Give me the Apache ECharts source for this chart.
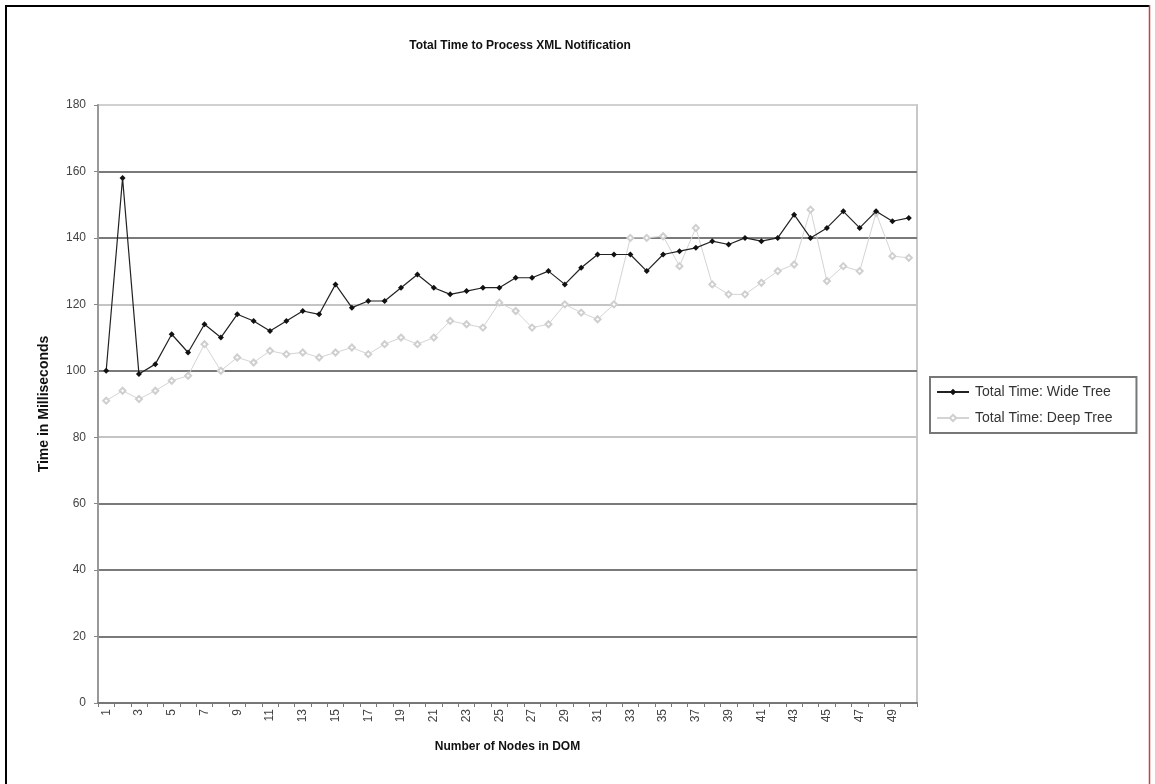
<!DOCTYPE html>
<html>
<head>
<meta charset="utf-8">
<title>Total Time to Process XML Notification</title>
<script src="https://cdn.jsdelivr.net/npm/echarts@6/dist/echarts.min.js"></script>
<style>
  html, body { margin: 0; padding: 0; background: #fff; }
  #chart { width: 1155px; height: 784px; }
</style>
</head>
<body>
<div id="chart"></div>
<script>
// Node counts 1..50
const nodeCounts = Array.from({ length: 50 }, (_, i) => String(i + 1));

// Total processing time (ms) for the wide tree
const wideTree = [
  100, 158, 99, 102, 111, 105.5, 114, 110, 117, 115,
  112, 115, 118, 117, 126, 119, 121, 121, 125, 129,
  125, 123, 124, 125, 125, 128, 128, 130, 126, 131,
  135, 135, 135, 130, 135, 136, 137, 139, 138, 140,
  139, 140, 147, 140, 143, 148, 143, 148, 145, 146
];

// Total processing time (ms) for the deep tree
const deepTree = [
  91, 94, 91.5, 94, 97, 98.5, 108, 100, 104, 102.5,
  106, 105, 105.5, 104, 105.5, 107, 105, 108, 110, 108,
  110, 115, 114, 113, 120.5, 118, 113, 114, 120, 117.5,
  115.5, 120, 140, 140, 140.5, 131.5, 143, 126, 123, 123,
  126.5, 130, 132, 148.5, 127, 131.5, 130, 147.5, 134.5, 134
];

const seriesNames = ['Total Time: Wide Tree', 'Total Time: Deep Tree'];
const yTicks = { min: 0, max: 180, step: 20 };

const FONT = '"Liberation Sans", Arial, sans-serif';

const chart = echarts.init(document.getElementById('chart'), null, { renderer: 'canvas' });

chart.setOption({
  animation: false,
  backgroundColor: '#fff',
  title: {
    text: 'Total Time to Process XML Notification',
    left: 515,
    top: 35,
    textAlign: 'center',
    textStyle: { fontFamily: FONT, fontSize: 12, fontWeight: 'bold', color: '#111' }
  },
  legend: {
    orient: 'vertical',
    left: 930,
    top: 377,
    padding: [8, 24, 8, 6],
    itemGap: 12,
    itemWidth: 32,
    itemHeight: 8,
    borderColor: '#777',
    borderWidth: 2,
    backgroundColor: '#fff',
    textStyle: { fontFamily: FONT, fontSize: 14, color: '#333', padding: [0, 0, 0, 1] },
    data: seriesNames
  },
  grid: {
    left: 98,
    right: 238,
    top: 105,
    bottom: 81,
    show: true,
    borderColor: '#c8c8c8',
    borderWidth: 2
  },
  xAxis: {
    type: 'category',
    data: nodeCounts,
    boundaryGap: true,
    name: 'Number of Nodes in DOM',
    nameLocation: 'middle',
    nameGap: 38,
    nameTextStyle: { fontFamily: FONT, fontSize: 12, fontWeight: 'bold', color: '#111' },
    axisLine: { show: true, lineStyle: { color: '#777', width: 2 } },
    axisTick: { show: true, interval: 0, length: 4, lineStyle: { color: '#777', width: 1 } },
    axisLabel: {
      interval: 1,
      rotate: 90,
      margin: 6,
      fontFamily: FONT,
      fontSize: 12,
      color: '#444'
    },
    splitLine: { show: false }
  },
  yAxis: {
    type: 'value',
    min: yTicks.min,
    max: yTicks.max,
    interval: yTicks.step,
    name: 'Time in Milliseconds',
    nameLocation: 'middle',
    nameGap: 47,
    nameTextStyle: { fontFamily: FONT, fontSize: 14, fontWeight: 'bold', color: '#111' },
    axisLine: { show: true, lineStyle: { color: '#999', width: 2 } },
    axisTick: { show: true, length: 4, lineStyle: { color: '#888', width: 1 } },
    axisLabel: { margin: 12, fontFamily: FONT, fontSize: 12, color: '#444' },
    splitLine: {
      show: true,
      lineStyle: {
        width: 2,
        color: ['#777', '#7a7a7a', '#7a7a7a', '#7a7a7a', '#c4c4c4',
                '#7a7a7a', '#c4c4c4', '#7a7a7a', '#7a7a7a', '#d0d0d0']
      }
    }
  },
  series: [
    {
      name: seriesNames[0],
      type: 'line',
      data: wideTree,
      symbol: 'diamond',
      symbolSize: 6,
      color: '#111',
      itemStyle: { color: '#111' },
      lineStyle: { color: '#222', width: 1.2 },
      z: 3
    },
    {
      name: seriesNames[1],
      type: 'line',
      data: deepTree,
      symbol: 'emptyDiamond',
      symbolSize: 6,
      color: '#cfcfcf',
      itemStyle: { color: '#cfcfcf', borderColor: '#cfcfcf' },
      lineStyle: { color: '#d4d4d4', width: 1 },
      z: 2
    }
  ],
  graphic: [
    // frame around the whole chart
    { type: 'line', shape: { x1: 5, y1: 6, x2: 1150, y2: 6 }, style: { stroke: '#000', lineWidth: 2 } },
    { type: 'line', shape: { x1: 6, y1: 5, x2: 6, y2: 784 }, style: { stroke: '#000', lineWidth: 2 } },
    { type: 'line', shape: { x1: 1149.5, y1: 5, x2: 1149.5, y2: 784 }, style: { stroke: '#c84040', lineWidth: 1.5 } }
  ]
});
</script>
</body>
</html>
